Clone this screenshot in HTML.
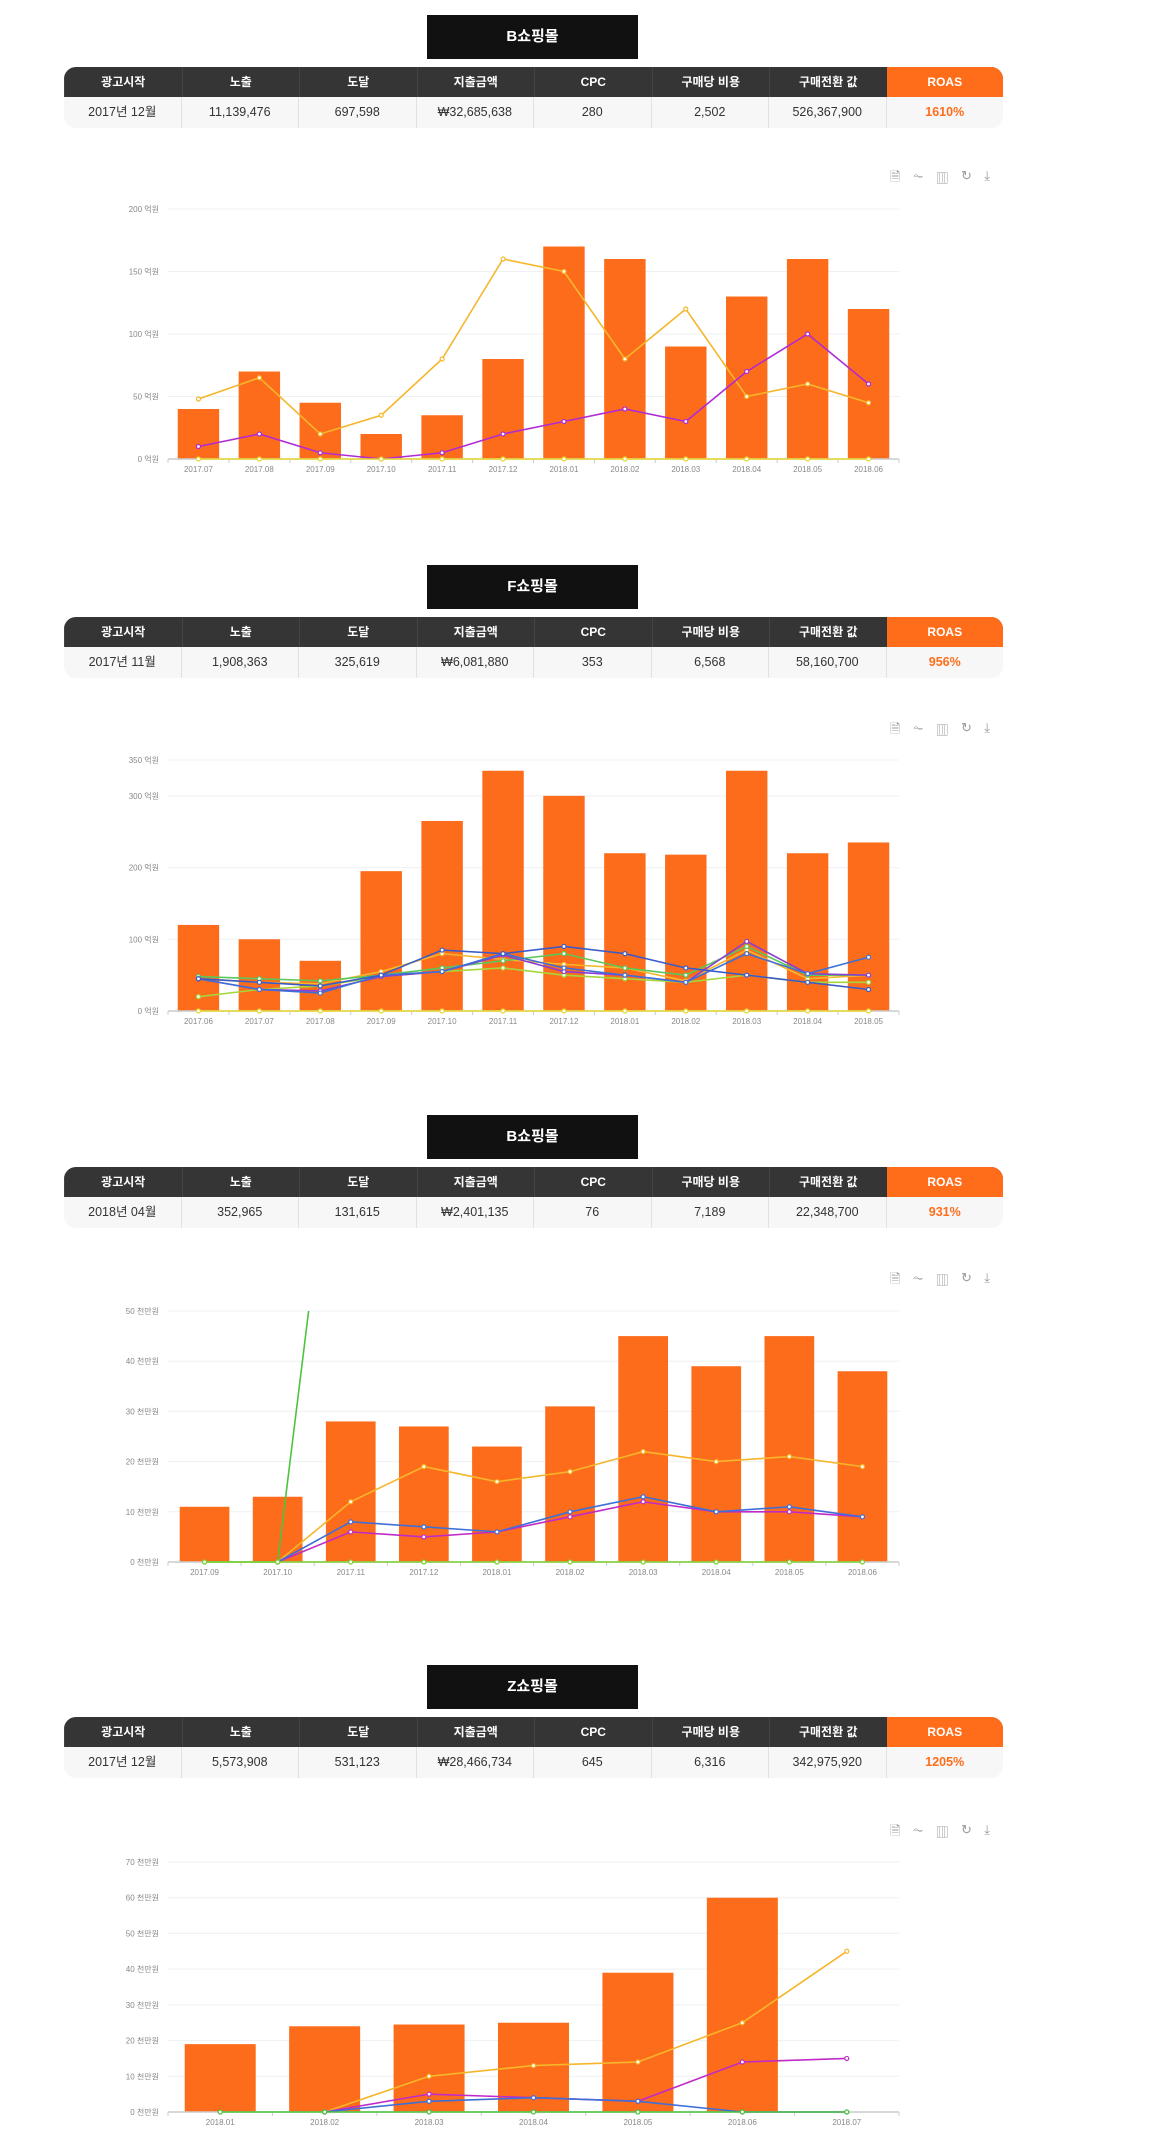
<!DOCTYPE html>
<html><head><meta charset="utf-8">
<style>
html,body{margin:0;padding:0;background:#fff;width:1163px;height:2144px;overflow:hidden;font-family:"Liberation Sans","Noto Sans CJK KR",sans-serif;}
.sec{position:absolute;left:0;width:1163px;}
.title{position:absolute;left:427px;width:211px;height:44px;background:#111;color:#fff;font-weight:bold;font-size:15px;line-height:44px;text-align:center;}
.tbl{position:absolute;left:64px;width:939px;height:61px;border-radius:12px;overflow:hidden;background:#f7f7f7;}
.row{display:flex;height:30px;}
.row.h{background:#353535;color:#fff;font-weight:bold;font-size:12px;}
.row.d{height:31px;color:#333;font-size:12.5px;}
.c{flex:1;text-align:center;line-height:30px;border-left:1px solid #e2e2e2;}
.row.h .c{border-left:1px solid #444;}
.c:first-child{border-left:none}
.row.h .c.o{background:#ff6d1b;border-left:none}
.row.d .c.o{color:#ff6d1b;font-weight:bold}
.icons{position:absolute;left:890px;width:100px;height:16px;color:#999;font-size:13px;display:flex;justify-content:space-between}
svg.chart{position:absolute;left:0;}
</style></head><body>
<div id="root"></div>
<script>
// ---- data arrays ----
const c1Cats=["2017.07","2017.08","2017.09","2017.10","2017.11","2017.12","2018.01","2018.02","2018.03","2018.04","2018.05","2018.06"];
const c1Bars=[40,70,45,20,35,80,170,160,90,130,160,120];
const c1Yellow=[48,65,20,35,80,160,150,80,120,50,60,45];
const c1Purple=[10,20,5,0,5,20,30,40,30,70,100,60];
const c1Base=[0,0,0,0,0,0,0,0,0,0,0,0];
const c1Ticks=[0,50,100,150,200];

const c2Cats=["2017.06","2017.07","2017.08","2017.09","2017.10","2017.11","2017.12","2018.01","2018.02","2018.03","2018.04","2018.05"];
const c2Bars=[120,100,70,195,265,335,300,220,218,335,220,235];
const c2Blue1=[45,40,35,50,85,80,90,80,60,50,40,30];
const c2Blue2=[45,30,25,50,55,80,60,50,40,80,52,75];
const c2Purple=[45,30,28,48,55,78,55,50,40,97,52,50];
const c2Green=[48,45,42,50,60,70,80,60,50,90,50,50];
const c2LGreen=[20,30,35,48,55,60,50,45,40,50,40,40];
const c2Orange=[45,40,38,55,80,72,65,60,42,85,45,50];
const c2Base=[0,0,0,0,0,0,0,0,0,0,0,0];
const c2Ticks=[0,100,200,300,350];

const c3Cats=["2017.09","2017.10","2017.11","2017.12","2018.01","2018.02","2018.03","2018.04","2018.05","2018.06"];
const c3Bars=[11,13,28,27,23,31,45,39,45,38];
const c3Yellow=[null,0,12,19,16,18,22,20,21,19];
const c3Blue=[null,0,8,7,6,10,13,10,11,9];
const c3Purple=[null,0,6,5,6,9,12,10,10,9];
const c3Spike=[0,0,118,null,null,null,null,null,null,null];
const c3Base=[0,0,0,0,0,0,0,0,0,0];
const c3Ticks=[0,10,20,30,40,50];

const c4Cats=["2018.01","2018.02","2018.03","2018.04","2018.05","2018.06","2018.07"];
const c4Bars=[19,24,24.5,25,39,60,null];
const c4Yellow=[null,0,10,13,14,25,45];
const c4Purple=[null,0,5,4,3,14,15];
const c4Blue=[null,0,3,4,3,0,0];
const c4Base=[0,0,0,0,0,0,0];
const c4Ticks=[0,10,20,30,40,50,60,70];

const NS="http://www.w3.org/2000/svg";
const root=document.getElementById('root');
function mk(tag,attrs,parent){const e=document.createElementNS(NS,tag);for(const k in attrs)e.setAttribute(k,attrs[k]);if(parent)parent.appendChild(e);return e;}

function section(top,title,vals,cfg){
  const s=document.createElement('div');s.className='sec';s.style.top=top+'px';
  
  
  const t=document.createElement('div');t.className='title';t.style.top='15px';t.textContent=title;
  
  
  s.appendChild(t);
  const tb=document.createElement('div');tb.className='tbl';tb.style.top='67px';
  
  
  const hd=["광고시작","노출","도달","지출금액","CPC","구매당 비용","구매전환 값","ROAS"];
  const h=document.createElement('div');h.className='row h';
  hd.forEach((x,i)=>{const c=document.createElement('div');c.className='c'+(i==7?' o':'');c.textContent=x;
    
    
    h.appendChild(c);});
  const d=document.createElement('div');d.className='row d';
  vals.forEach((x,i)=>{const c=document.createElement('div');c.className='c'+(i==7?' o':'');c.textContent=x;
    
    
    d.appendChild(c);});
  tb.appendChild(h);tb.appendChild(d);s.appendChild(tb);
  const ic=document.createElement('div');ic.className='icons';ic.style.top=(cfg.iconY)+'px';
  
  
  ["🗎","⏦","▥","↻","⤓"].forEach(g=>{const sp=document.createElement('span');sp.textContent=g;
    
    
    ic.appendChild(sp);});
  s.appendChild(ic);
  root.appendChild(s);
  drawChart(s,cfg);
}

function drawChart(s,cfg){
  const L=168,R=899,top=cfg.plotTop,bot=cfg.plotBot;
  const svg=mk('svg',{width:1163,height:bot+30,class:'chart'});
  svg.style.top='0px';
  
  
  s.appendChild(svg);
  const max=cfg.max;
  const y=v=>bot-(v/max)*(bot-top);
  const n=cfg.cats.length,bw=(R-L)/n;
  const x=i=>L+bw*(i+0.5);
  const cid='clip'+cfg.plotBot;
  const defs=mk('defs',{},svg);const cp=mk('clipPath',{id:cid},defs);mk('rect',{x:L,y:top,width:R-L,height:bot-top+5},cp);
  cfg.ticks.forEach(t=>{
    const g=mk('line',{x1:L,x2:R,y1:y(t),y2:y(t),stroke:'#eef0f3','stroke-width':1},svg);
    
    
    const tx=mk('text',{x:159,y:y(t)+3,'text-anchor':'end','font-size':8,fill:'#888'},svg);
    tx.textContent=t+' '+cfg.unit;
    
    
  });
  cfg.bars.forEach((v,i)=>{
    if(v==null)return;
    const bwid=bw*cfg.barFrac;
    const r=mk('rect',{x:x(i)-bwid/2,y:y(v),width:bwid,height:bot-y(v),fill:'#fd6c1b'},svg);
    
    
  });
  const ax=mk('line',{x1:L,x2:R,y1:bot,y2:bot,stroke:'#ccc','stroke-width':1.5},svg);
  
  
  for(let i=0;i<=n;i++){const tk=mk('line',{x1:L+bw*i,x2:L+bw*i,y1:bot,y2:bot+4,stroke:'#ccc'},svg);
    
    }
  cfg.cats.forEach((c,i)=>{const tx=mk('text',{x:x(i),y:bot+13,'text-anchor':'middle','font-size':8,fill:'#888'},svg);tx.textContent=c;
    
    });
  const lg=mk('g',{'clip-path':'url(#'+cid+')'},svg);
  cfg.lines.forEach(ln=>{
    let d='';let pen=false;
    ln.data.forEach((v,i)=>{if(v==null){pen=false;return;}d+=(pen?'L':'M')+x(i)+','+y(v);pen=true;});
    const p=mk('path',{d:d,fill:'none',stroke:ln.color,'stroke-width':1.6},lg);
    
    
    ln.data.forEach((v,i)=>{if(v==null)return;const c=mk('circle',{cx:x(i),cy:y(v),r:2,fill:'#fff',stroke:ln.color,'stroke-width':1.2},lg);
      
      });
  });
}

section(0,"B쇼핑몰",["2017년 12월","11,139,476","697,598","₩32,685,638","280","2,502","526,367,900","1610%"],
 {iconY:168,plotTop:209,plotBot:459,max:200,unit:'억원',ticks:c1Ticks,cats:c1Cats,bars:c1Bars,barFrac:0.68,
  lines:[{name:'line-yellow',color:'#f5b62b',data:c1Yellow},{name:'line-purple',color:'#b02bd3',data:c1Purple},{name:'line-base',color:'#e8d832',data:c1Base}]});
section(550,"F쇼핑몰",["2017년 11월","1,908,363","325,619","₩6,081,880","353","6,568","58,160,700","956%"],
 {iconY:170,plotTop:210,plotBot:461,max:350,unit:'억원',ticks:c2Ticks,cats:c2Cats,bars:c2Bars,barFrac:0.68,
  lines:[{name:'line-orange',color:'#f5b62b',data:c2Orange},{name:'line-lightgreen',color:'#a5d63a',data:c2LGreen},{name:'line-green',color:'#5bc75b',data:c2Green},{name:'line-purple',color:'#8a3fd1',data:c2Purple},{name:'line-blue2',color:'#3f6fd6',data:c2Blue2},{name:'line-blue1',color:'#3a5bc7',data:c2Blue1},{name:'line-base',color:'#e8d832',data:c2Base}]});
section(1100,"B쇼핑몰",["2018년 04월","352,965","131,615","₩2,401,135","76","7,189","22,348,700","931%"],
 {iconY:170,plotTop:211,plotBot:462,max:50,unit:'천만원',ticks:c3Ticks,cats:c3Cats,bars:c3Bars,barFrac:0.68,
  lines:[{name:'line-yellow',color:'#f5b62b',data:c3Yellow},{name:'line-purple',color:'#c02bc8',data:c3Purple},{name:'line-blue',color:'#3f6fd6',data:c3Blue},{name:'line-green-spike',color:'#4cc43f',data:c3Spike},{name:'line-base',color:'#7ed02e',data:c3Base}]});
section(1650,"Z쇼핑몰",["2017년 12월","5,573,908","531,123","₩28,466,734","645","6,316","342,975,920","1205%"],
 {iconY:172,plotTop:212,plotBot:462,max:70,unit:'천만원',ticks:c4Ticks,cats:c4Cats,bars:c4Bars,barFrac:0.68,
  lines:[{name:'line-yellow',color:'#f5b62b',data:c4Yellow},{name:'line-purple',color:'#c02bc8',data:c4Purple},{name:'line-blue',color:'#3f6fd6',data:c4Blue},{name:'line-base',color:'#4cc43f',data:c4Base}]});
</script>
</body></html>
